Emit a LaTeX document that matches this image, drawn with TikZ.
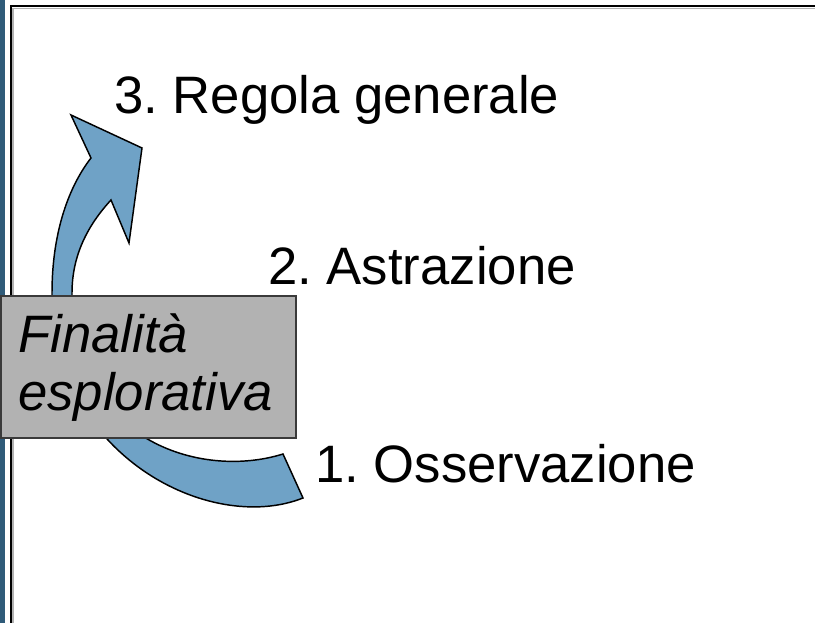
\documentclass[tikz,border=0pt]{standalone}
\usepackage{fontspec}
\setmainfont{Liberation Sans}
\frenchspacing
\definecolor{bandblue}{HTML}{2F5B79}
\definecolor{arrowblue}{HTML}{6FA2C6}
\definecolor{boxgray}{HTML}{B2B2B2}
\definecolor{edgegray}{HTML}{3A3A3A}
\tikzset{
  lbl/.style={anchor=base west, inner sep=0pt, font=\fontsize{39.5pt}{44pt}\selectfont},
  ilbl/.style={lbl, font=\fontsize{39.5pt}{44pt}\selectfont\itshape},
  arrowshape/.style={fill=arrowblue, draw=black, line width=1.1pt, line join=miter},
  graybox/.style={fill=boxgray, draw=edgegray, line width=1.2pt}
}
\begin{document}
\begin{tikzpicture}[x=0.75pt,y=-0.75pt]
\useasboundingbox (0,0) rectangle (815,623);
% frame
\fill[bandblue] (0,0) rectangle (5,623);
\draw[gray!60, line width=0.8pt] (13,623) -- (13,8.5) -- (815,8.5);
\draw[black, line width=1.5pt] (11,623) -- (11,6) -- (815,6);
% curved arrow
\draw[arrowshape]
  (303,498) .. controls (210,535) and (52,455) .. (52,293)
  .. controls (52,230) and (70,185) .. (91,158)
  -- (71,115) -- (142,148) -- (129,243) -- (111,200)
  .. controls (88,225) and (72,255) .. (72,293)
  .. controls (72,440) and (200,480) .. (283,454)
  -- cycle;
% box
\node[graybox, anchor=north west, minimum width=221.25pt, minimum height=106.5pt, inner sep=0pt] (box) at (0,295) {};
\node[ilbl] (fin1) at (18,353) {Finalità};
\node[ilbl] (fin2) at (18,411) {esplorativa};
% labels
\node[lbl] (l3) at (114,114) {3. Regola generale};
\node[lbl] (l2) at (268,285) {2. Astrazione};
\node[lbl] (l1) at (315,483) {1. Osservazione};
\end{tikzpicture}
\end{document}
